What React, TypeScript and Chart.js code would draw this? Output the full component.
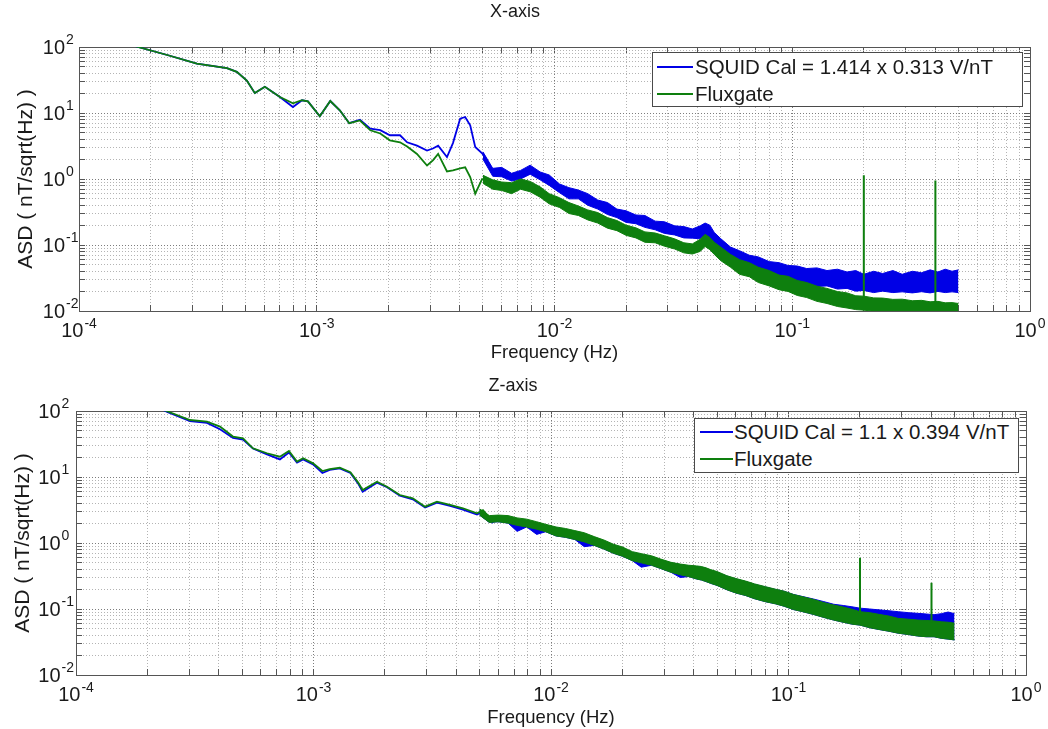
import React, { useEffect, useRef } from 'react';
import { Chart, registerables } from 'chart.js';

Chart.register(...registerables);

const FONT = '"Liberation Sans", Arial, Helvetica, sans-serif';
const TEXT = '#1a1a1a';
const BLUE = '#0000e6';
const GREEN = '#0e7f0e';
const AXIS = '#555555';
const MAJOR_GRID = '#7c7c7c';
const MINOR_GRID = '#b4b4b4';

// ---- axes / ticks ----
const X_DECADES = [-4, -3, -2, -1, 0];
const Y_DECADES = [-2, -1, 0, 1, 2];
const X_TICK_LABELS = ['-4', '-3', '-2', '-1', '0'];
const Y_TICK_LABELS = ['-2', '-1', '0', '1', '2'];
const MINOR_STEPS = [1, 2, 3, 4, 5, 6, 7, 8, 9];

const SERIES_NAMES_TOP = ['SQUID Cal = 1.414 x 0.313 V/nT', 'Fluxgate'];
const SERIES_NAMES_BOTTOM = ['SQUID Cal = 1.1 x 0.394 V/nT', 'Fluxgate'];

// ---- top panel (X-axis) : low-frequency line part ----
const TOP_LINE_FREQ = [1.6e-4, 1.77e-4, 2.37e-4, 3.13e-4, 4.19e-4, 4.61e-4, 5.08e-4, 5.49e-4, 6.05e-4, 7.0e-4,
  7.94e-4, 8.67e-4, 9.18e-4, 1.03e-3, 1.14e-3, 1.25e-3, 1.37e-3, 1.52e-3, 1.68e-3, 1.85e-3,
  2.03e-3, 2.24e-3, 2.40e-3, 2.64e-3, 2.91e-3, 3.08e-3, 3.24e-3, 3.53e-3, 3.74e-3, 4.01e-3,
  4.21e-3, 4.42e-3, 4.64e-3, 4.96e-3, 5.20e-3, 5.51e-3];
const TOP_SQUID_LINE = [115, 100, 75, 56, 48, 42, 31, 20, 25, 17.5,
  12.3, 15.6, 15, 8.9, 15.2, 11, 7, 7.9, 5.8, 5.5,
  4.6, 4.6, 3.6, 3.2, 2.7, 2.9, 3.2, 2.15, 3.5, 8.2,
  8.7, 6.5, 3.05, 2.45, 1.9, 1.3];
const TOP_FLUX_LINE = [115, 100, 75, 56, 48, 42, 31, 20, 25, 17.5,
  14, 15.6, 15, 8.9, 15.2, 11, 7, 7.7, 5.47, 4.9,
  3.86, 3.6, 3.1, 2.4, 1.6, 1.92, 2.4, 1.3, 1.35, 1.45,
  1.5, 1.07, 0.6, 1.0, 0.95, 0.8];

// ---- noisy band part (shared frequencies) ----
const BAND_FREQ = [0.005, 0.0055, 0.006, 0.0066, 0.0072, 0.0079, 0.0087, 0.0095, 0.0105, 0.0115,
  0.0126, 0.0138, 0.0152, 0.0167, 0.0183, 0.02, 0.022, 0.024, 0.0265, 0.029,
  0.032, 0.035, 0.038, 0.041, 0.043, 0.045, 0.047, 0.05, 0.055, 0.06,
  0.066, 0.072, 0.08, 0.088, 0.096, 0.105, 0.115, 0.127, 0.14, 0.155,
  0.17, 0.185, 0.2, 0.22, 0.24, 0.265, 0.29, 0.32, 0.35, 0.38,
  0.41, 0.44, 0.47, 0.5];

const TOP_SQUID_UPPER = [2.58, 1.45, 1.5, 1.22, 1.35, 1.62, 1.28, 1.15, 0.84, 0.74,
  0.68, 0.6, 0.48, 0.44, 0.35, 0.33, 0.285, 0.28, 0.23, 0.225,
  0.195, 0.19, 0.175, 0.195, 0.215, 0.2, 0.155, 0.125, 0.093, 0.082,
  0.07, 0.066, 0.056, 0.054, 0.049, 0.048, 0.044, 0.045, 0.041, 0.043,
  0.039, 0.041, 0.036, 0.04, 0.037, 0.041, 0.036, 0.04, 0.038, 0.042,
  0.039, 0.043, 0.04, 0.042];
const TOP_SQUID_LOWER = [2.0, 1.1, 1.08, 0.93, 1.0, 1.18, 0.97, 0.8, 0.62, 0.5,
  0.5, 0.4, 0.35, 0.29, 0.26, 0.22, 0.21, 0.185, 0.17, 0.15,
  0.142, 0.128, 0.127, 0.124, 0.14, 0.128, 0.1, 0.079, 0.061, 0.048,
  0.043, 0.036, 0.034, 0.029, 0.028, 0.025, 0.0255, 0.0235, 0.024, 0.0215,
  0.022, 0.02, 0.0205, 0.019, 0.02, 0.019, 0.0195, 0.0188, 0.0196, 0.0188,
  0.0198, 0.019, 0.0195, 0.019];
const TOP_FLUX_UPPER = [1.14, 0.97, 0.9, 0.88, 1.0, 0.92, 0.76, 0.6, 0.52, 0.44,
  0.39, 0.34, 0.31, 0.26, 0.235, 0.2, 0.182, 0.158, 0.152, 0.138,
  0.124, 0.108, 0.104, 0.122, 0.145, 0.13, 0.11, 0.093, 0.072, 0.06,
  0.054, 0.046, 0.041, 0.035, 0.0335, 0.029, 0.027, 0.0238, 0.022, 0.0197,
  0.0188, 0.017, 0.0168, 0.0158, 0.0157, 0.015, 0.0151, 0.0143, 0.0145, 0.0138,
  0.014, 0.0133, 0.0134, 0.013];
const TOP_FLUX_LOWER = [0.86, 0.7, 0.67, 0.6, 0.7, 0.64, 0.53, 0.42, 0.37, 0.3,
  0.28, 0.24, 0.215, 0.18, 0.165, 0.14, 0.128, 0.11, 0.108, 0.096,
  0.087, 0.076, 0.073, 0.08, 0.095, 0.085, 0.072, 0.058, 0.046, 0.036,
  0.033, 0.027, 0.024, 0.021, 0.0198, 0.0172, 0.016, 0.014, 0.013, 0.0117,
  0.0111, 0.0105, 0.0103, 0.0099, 0.0096, 0.0094, 0.0093, 0.0092, 0.0091, 0.009,
  0.009, 0.009, 0.009, 0.009];

const TOP_SPIKE_FREQ = [0.2, 0.4];
const TOP_SPIKE_BASE = [0.016, 0.0135];
const TOP_SPIKE_PEAK = [1.14, 0.95];

// ---- bottom panel (Z-axis) ----
const BOT_LINE_FREQ = [2.2e-4, 2.42e-4, 3.02e-4, 3.56e-4, 4.04e-4, 4.58e-4, 5.05e-4, 5.56e-4, 6.37e-4, 7.22e-4,
  7.88e-4, 8.52e-4, 9.04e-4, 9.96e-4, 1.09e-3, 1.17e-3, 1.29e-3, 1.43e-3, 1.54e-3, 1.61e-3,
  1.85e-3, 2.04e-3, 2.31e-3, 2.62e-3, 2.95e-3, 3.31e-3, 3.76e-3, 4.26e-3, 4.88e-3, 5.17e-3,
  5.70e-3];
const BOT_SQUID_LINE = [115, 97, 70, 66, 53, 39, 37, 27, 22, 18.5,
  23.5, 16.5, 18.5, 15.5, 11.5, 12.8, 13.5, 11.5, 8.0, 6.0,
  8.2, 7.0, 5.2, 4.6, 3.45, 4.1, 3.65, 3.2, 2.7, 3.0,
  2.0];
const BOT_FLUX_LINE = [115, 99, 73, 69, 58, 41, 38.6, 27.2, 22.9, 20.3,
  24.8, 17.1, 19.2, 16.1, 12.3, 13.2, 13.8, 11.8, 8.3, 6.35,
  8.5, 7.13, 5.33, 4.75, 3.55, 4.22, 3.77, 3.36, 2.82, 3.16,
  2.1];

const BOT_SQUID_UPPER = [3.2, 2.5, 2.55, 2.5, 2.3, 2.2, 2.0, 1.85, 1.7, 1.6,
  1.48, 1.38, 1.2, 1.07, 0.93, 0.84, 0.72, 0.67, 0.62, 0.55,
  0.5, 0.47, 0.45, 0.44, 0.43, 0.41, 0.385, 0.36, 0.315, 0.285,
  0.26, 0.236, 0.215, 0.198, 0.185, 0.166, 0.154, 0.142, 0.13, 0.118,
  0.113, 0.108, 0.103, 0.1, 0.097, 0.094, 0.091, 0.088, 0.086, 0.084,
  0.082, 0.085, 0.09, 0.085];
const BOT_SQUID_LOWER = [2.65, 2.05, 2.1, 2.0, 1.5, 1.75, 1.35, 1.48, 1.28, 1.22,
  1.13, 0.88, 0.92, 0.81, 0.7, 0.63, 0.54, 0.43, 0.46, 0.41,
  0.36, 0.3, 0.31, 0.285, 0.275, 0.26, 0.245, 0.228, 0.196, 0.175,
  0.16, 0.143, 0.129, 0.12, 0.11, 0.098, 0.091, 0.083, 0.075, 0.068,
  0.063, 0.059, 0.057, 0.052, 0.049, 0.046, 0.043, 0.041, 0.039, 0.038,
  0.038, 0.036, 0.035, 0.034];
const BOT_FLUX_UPPER = [3.3, 2.6, 2.65, 2.6, 2.4, 2.3, 2.1, 1.92, 1.75, 1.66,
  1.54, 1.43, 1.25, 1.11, 0.96, 0.87, 0.74, 0.69, 0.64, 0.57,
  0.51, 0.48, 0.46, 0.45, 0.44, 0.42, 0.395, 0.37, 0.32, 0.29,
  0.265, 0.24, 0.218, 0.2, 0.186, 0.166, 0.153, 0.14, 0.126, 0.115,
  0.107, 0.099, 0.091, 0.088, 0.083, 0.078, 0.072, 0.07, 0.068, 0.067,
  0.066, 0.064, 0.063, 0.061];
const BOT_FLUX_LOWER = [2.65, 2.05, 2.1, 2.0, 1.85, 1.75, 1.62, 1.48, 1.28, 1.22,
  1.13, 1.04, 0.92, 0.81, 0.7, 0.63, 0.54, 0.5, 0.46, 0.41,
  0.36, 0.33, 0.31, 0.285, 0.275, 0.26, 0.245, 0.228, 0.196, 0.175,
  0.16, 0.143, 0.129, 0.12, 0.11, 0.098, 0.091, 0.083, 0.075, 0.068,
  0.063, 0.059, 0.057, 0.052, 0.049, 0.046, 0.043, 0.041, 0.039, 0.038,
  0.038, 0.036, 0.035, 0.034];

const BOT_SPIKE_FREQ = [0.2, 0.4];
const BOT_SPIKE_BASE = [0.085, 0.062];
const BOT_SPIKE_PEAK = [0.6, 0.25];

// ---- helpers ----
function decadeTicks(decades: number[]): number[] {
  const out: number[] = [];
  for (let i = 0; i < decades.length - 1; i++) {
    for (const m of MINOR_STEPS) out.push(m * Math.pow(10, decades[i]));
  }
  out.push(Math.pow(10, decades[decades.length - 1]));
  return out;
}
const X_TICKS = decadeTicks(X_DECADES);
const Y_TICKS = decadeTicks(Y_DECADES);

function isDecade(v: any): boolean {
  if (typeof v !== 'number' || v <= 0) return false;
  const l = Math.log10(v);
  return Math.abs(l - Math.round(l)) < 1e-6;
}

function pts(fs: number[], vs: number[]) {
  return fs.map((f, i) => ({ x: f, y: vs[i] }));
}

function spikePts(fs: number[], base: number[], peak: number[]) {
  const out: any[] = [];
  fs.forEach((f, i) => {
    if (i > 0) out.push({ x: f * 0.9, y: null });
    out.push({ x: f, y: base[i] });
    out.push({ x: f, y: peak[i] });
  });
  return out;
}

type PanelCfg = {
  title: string;
  titlePadTop: number;
  titlePadBottom: number;
  canvasTop: number;
  canvasHeight: number;
  yWidth: number;
  rightPad: number;
  xScaleHeight: number;
  yTitlePad: number;
  yLabelGap: number;
  lineFreq: number[];
  squidLine: number[];
  fluxLine: number[];
  squidUpper: number[];
  squidLower: number[];
  fluxUpper: number[];
  fluxLower: number[];
  spikeFreq: number[];
  spikeBase: number[];
  spikePeak: number[];
  names: string[];
  legend: { left: number; top: number; width: number; height: number; lineLeft: number; lineRight: number; textLeft: number; row1: number; row2: number };
};

const PANELS: PanelCfg[] = [
  {
    title: 'X-axis', titlePadTop: 1.2, titlePadBottom: 24.2, canvasTop: 0, canvasHeight: 364,
    yWidth: 79, rightPad: 18, xScaleHeight: 53, yTitlePad: 13.4, yLabelGap: 14,
    lineFreq: TOP_LINE_FREQ, squidLine: TOP_SQUID_LINE, fluxLine: TOP_FLUX_LINE,
    squidUpper: TOP_SQUID_UPPER, squidLower: TOP_SQUID_LOWER, fluxUpper: TOP_FLUX_UPPER, fluxLower: TOP_FLUX_LOWER,
    spikeFreq: TOP_SPIKE_FREQ, spikeBase: TOP_SPIKE_BASE, spikePeak: TOP_SPIKE_PEAK,
    names: SERIES_NAMES_TOP,
    legend: { left: 652, top: 52, width: 371, height: 55, lineLeft: 657, lineRight: 693, textLeft: 695, row1: 67, row2: 94 },
  },
  {
    title: 'Z-axis', titlePadTop: 11.2, titlePadBottom: 14.2, canvasTop: 364, canvasHeight: 365,
    yWidth: 76, rightPad: 22, xScaleHeight: 54, yTitlePad: 10.4, yLabelGap: 15.5,
    lineFreq: BOT_LINE_FREQ, squidLine: BOT_SQUID_LINE, fluxLine: BOT_FLUX_LINE,
    squidUpper: BOT_SQUID_UPPER, squidLower: BOT_SQUID_LOWER, fluxUpper: BOT_FLUX_UPPER, fluxLower: BOT_FLUX_LOWER,
    spikeFreq: BOT_SPIKE_FREQ, spikeBase: BOT_SPIKE_BASE, spikePeak: BOT_SPIKE_PEAK,
    names: SERIES_NAMES_BOTTOM,
    legend: { left: 694, top: 418, width: 325, height: 55, lineLeft: 700, lineRight: 733, textLeft: 734, row1: 432, row2: 459 },
  },
];

const BASE_FONT = `20px ${FONT}`;
const EXP_FONT = `14px ${FONT}`;

function PanelChart({ p }: { p: PanelCfg }) {
  const ref = useRef<HTMLCanvasElement | null>(null);

  useEffect(() => {
    if (!ref.current) return;

    const powTicks = {
      id: 'powTicks',
      afterDraw(chart: any) {
        const ctx = chart.ctx;
        const xs = chart.scales.x;
        const ys = chart.scales.y;
        const area = chart.chartArea;
        ctx.save();
        ctx.fillStyle = TEXT;
        ctx.textBaseline = 'middle';
        ctx.textAlign = 'left';
        X_DECADES.forEach((d, i) => {
          const px = xs.getPixelForValue(Math.pow(10, d));
          const exp = X_TICK_LABELS[i];
          ctx.font = BASE_FONT;
          const bw = ctx.measureText('10').width;
          ctx.font = EXP_FONT;
          const ew = ctx.measureText(exp).width;
          const start = px - (bw + ew + 1) / 2;
          const cy = area.bottom + 20;
          ctx.font = BASE_FONT;
          ctx.fillText('10', start, cy);
          ctx.font = EXP_FONT;
          ctx.fillText(exp, start + bw + 1, cy - 7);
        });
        Y_DECADES.forEach((d, i) => {
          const py = ys.getPixelForValue(Math.pow(10, d));
          const exp = Y_TICK_LABELS[i];
          ctx.font = BASE_FONT;
          const bw = ctx.measureText('10').width;
          const right = area.left - p.yLabelGap;
          ctx.fillText('10', right - bw, py + 1);
          ctx.font = EXP_FONT;
          ctx.fillText(exp, right + 1, py - 7);
        });
        ctx.restore();
      },
    };

    const line = (label: string, data: any[], color: string, order: number) => ({
      label, data, borderColor: color, backgroundColor: color, borderWidth: 1.8,
      pointRadius: 0, tension: 0, fill: false, order,
    });
    const band = (label: string, data: any[], color: string, order: number, fill: any) => ({
      label, data, borderColor: color, backgroundColor: color, borderWidth: 1,
      pointRadius: 0, tension: 0, fill, order,
    });

    const datasets: any[] = [
      line(p.names[0], pts(p.lineFreq, p.squidLine), BLUE, 4),
      band('squid-upper', pts(BAND_FREQ, p.squidUpper), BLUE, 3, '+1'),
      band('squid-lower', pts(BAND_FREQ, p.squidLower), BLUE, 3, false),
      line(p.names[1], pts(p.lineFreq, p.fluxLine), GREEN, 2),
      band('flux-upper', pts(BAND_FREQ, p.fluxUpper), GREEN, 1, '+1'),
      band('flux-lower', pts(BAND_FREQ, p.fluxLower), GREEN, 1, false),
      { ...line('flux-spikes', spikePts(p.spikeFreq, p.spikeBase, p.spikePeak), GREEN, 0), spanGaps: false, borderWidth: 2 },
    ];

    const gridColor = (ctx: any) => (isDecade(ctx.tick && ctx.tick.value) ? MAJOR_GRID : MINOR_GRID);

    const chart = new Chart(ref.current, {
      type: 'line',
      data: { datasets },
      plugins: [powTicks],
      options: {
        animation: false,
        responsive: false,
        devicePixelRatio: 1,
        parsing: false as any,
        normalized: true,
        layout: { autoPadding: false, padding: { left: 0, right: p.rightPad, top: 0, bottom: 0 } },
        plugins: {
          legend: { display: false },
          tooltip: { enabled: false },
          title: {
            display: true, text: p.title, color: TEXT,
            font: { family: FONT, size: 18, weight: 'normal', lineHeight: 1.2 },
            padding: { top: p.titlePadTop, bottom: p.titlePadBottom },
          },
        },
        scales: {
          x: {
            type: 'logarithmic', position: 'bottom', min: 1e-4, max: 1,
            afterBuildTicks: (s: any) => { s.ticks = X_TICKS.map((v) => ({ value: v })); },
            afterFit: (s: any) => { s.height = p.xScaleHeight; },
            ticks: { display: false },
            grid: { color: gridColor, lineWidth: 1, drawTicks: true, tickLength: -6, tickColor: AXIS, tickWidth: 1 },
            border: { display: true, color: AXIS, width: 1, dash: [1, 2] },
            title: {
              display: true, text: 'Frequency (Hz)', color: TEXT,
              font: { family: FONT, size: 18.5, lineHeight: 1.2 }, padding: { top: 0, bottom: 0 },
            },
          },
          x2: {
            type: 'logarithmic', position: 'top', min: 1e-4, max: 1,
            afterBuildTicks: (s: any) => { s.ticks = X_TICKS.map((v) => ({ value: v })); },
            afterFit: (s: any) => { s.height = 0; },
            ticks: { display: false },
            grid: { drawOnChartArea: false, drawTicks: true, tickLength: -6, tickColor: AXIS, tickWidth: 1 },
            border: { display: true, color: AXIS, width: 1 },
          },
          y: {
            type: 'logarithmic', position: 'left', min: 0.01, max: 100,
            afterBuildTicks: (s: any) => { s.ticks = Y_TICKS.map((v) => ({ value: v })); },
            afterFit: (s: any) => { s.width = p.yWidth; },
            ticks: { display: false },
            grid: { color: gridColor, lineWidth: 1, drawTicks: true, tickLength: -6, tickColor: AXIS, tickWidth: 1 },
            border: { display: true, color: AXIS, width: 1, dash: [1, 2] },
            title: {
              display: true, text: 'ASD ( nT/sqrt(Hz) )', color: TEXT,
              font: { family: FONT, size: 21, lineHeight: 1.2 }, padding: { top: p.yTitlePad, bottom: 0 },
            },
          },
          y2: {
            type: 'logarithmic', position: 'right', min: 0.01, max: 100,
            afterBuildTicks: (s: any) => { s.ticks = Y_TICKS.map((v) => ({ value: v })); },
            afterFit: (s: any) => { s.width = 0; },
            ticks: { display: false },
            grid: { drawOnChartArea: false, drawTicks: true, tickLength: -6, tickColor: AXIS, tickWidth: 1 },
            border: { display: true, color: AXIS, width: 1 },
          },
        },
      } as any,
    });

    return () => { chart.destroy(); };
  }, [p]);

  const L = p.legend;
  const rowStyle = (center: number): React.CSSProperties => ({
    position: 'absolute', left: L.textLeft, top: center - 14, height: 28, lineHeight: '28px',
    fontFamily: FONT, fontSize: 20.5, color: TEXT, whiteSpace: 'nowrap',
  });
  const sample = (center: number, color: string): React.CSSProperties => ({
    position: 'absolute', left: L.lineLeft, top: center - 1, width: L.lineRight - L.lineLeft, height: 1.5,
    background: color,
  });

  return (
    <>
      <canvas
        ref={ref}
        width={1048}
        height={p.canvasHeight}
        style={{ position: 'absolute', left: 0, top: p.canvasTop, width: 1048, height: p.canvasHeight, display: 'block' }}
      />
      <div style={{ position: 'absolute', left: L.left, top: L.top, width: L.width - 2, height: L.height - 2, border: '1px solid #4a4a4a', background: '#ffffff' }} />
      <div style={sample(L.row1, BLUE)} />
      <div style={rowStyle(L.row1)}>{p.names[0]}</div>
      <div style={sample(L.row2, GREEN)} />
      <div style={rowStyle(L.row2)}>{p.names[1]}</div>
    </>
  );
}

export default function App() {
  return (
    <div style={{ position: 'absolute', left: 0, top: 0, width: 1048, height: 729, background: '#ffffff', overflow: 'hidden' }}>
      {PANELS.map((p, i) => (
        <PanelChart key={i} p={p} />
      ))}
    </div>
  );
}
